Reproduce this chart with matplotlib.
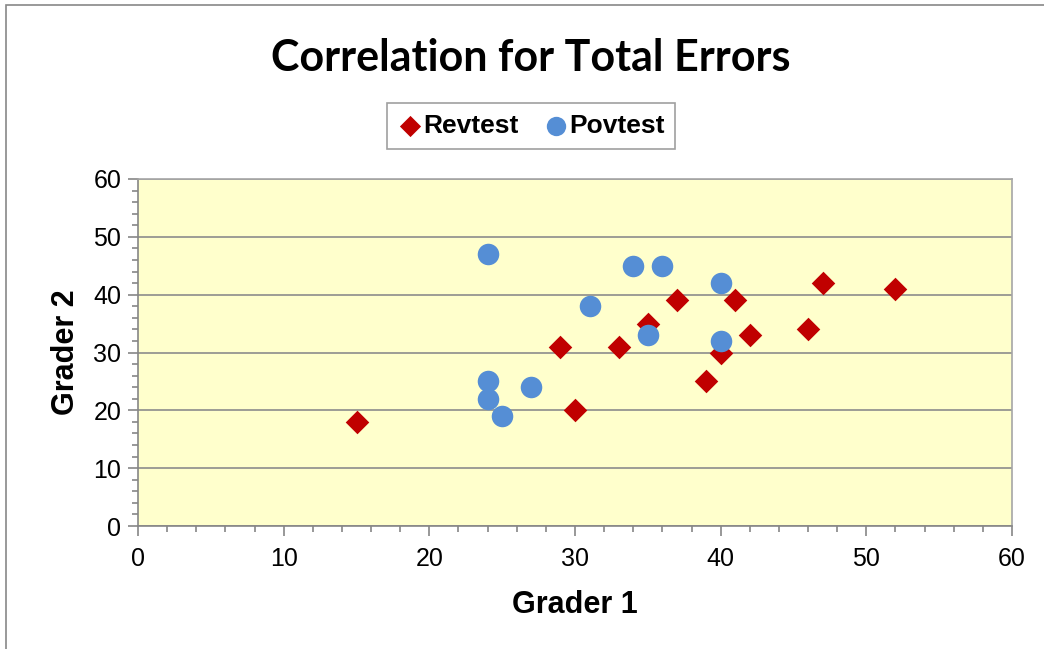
import matplotlib
matplotlib.use("Agg")
import matplotlib.pyplot as plt
import matplotlib.ticker as ticker
from matplotlib.patches import Rectangle

# Revtest points (grader 1, grader 2)
rev_g1 = [15, 29, 30, 33, 35, 37, 39, 40, 41, 42, 46, 47, 52]
rev_g2 = [18, 31, 20, 31, 35, 39, 25, 30, 39, 33, 34, 42, 41]

# Povtest points
pov_g1 = [24, 24, 24, 25, 27, 31, 34, 35, 36, 40, 40]
pov_g2 = [47, 25, 22, 19, 24, 38, 45, 33, 45, 42, 32]

plt.rcParams['font.family'] = ['Liberation Sans', 'DejaVu Sans']

fig = plt.figure(figsize=(10.44, 6.49), dpi=100)
ax = fig.add_axes([138/1044, 1-526/649, (1012-138)/1044, (526-179)/649])

# outer chart border (cut off at right/bottom like the source)
fig.patches.append(Rectangle((6/1044, -0.1), 1.2, 1-5/649+0.1, transform=fig.transFigure,
                             fill=False, edgecolor='#888888', lw=1.2))

ax.set_facecolor('#FFFFCC')
ax.set_xlim(0, 60)
ax.set_ylim(0, 60)
ax.xaxis.set_major_locator(ticker.MultipleLocator(10))
ax.xaxis.set_minor_locator(ticker.MultipleLocator(2))
ax.yaxis.set_major_locator(ticker.MultipleLocator(10))
ax.yaxis.set_minor_locator(ticker.MultipleLocator(2))
ax.grid(True, axis='y', which='major', color='#8c8c8c', lw=1.2)
ax.set_axisbelow(True)

for s in ['left', 'bottom']:
    ax.spines[s].set_color('#868686')
    ax.spines[s].set_linewidth(1.2)
for s in ['top', 'right']:
    ax.spines[s].set_color('#a6a6a6')
    ax.spines[s].set_linewidth(1.2)

ax.tick_params(which='major', direction='out', length=7, width=1.2, color='#868686',
               labelsize=18, pad=5)
ax.tick_params(axis='x', which='major', pad=8)
ax.tick_params(which='minor', direction='out', length=4, width=1.2, color='#868686')

ax.scatter(rev_g1, rev_g2, marker='D', s=12**2, color='#C00000', label='Revtest', zorder=3,
           linewidths=0)
ax.scatter(pov_g1, pov_g2, marker='o', s=15.5**2, color='#558ED5', label='Povtest', zorder=3,
           linewidths=0)

ax.set_xlabel('Grader 1', fontsize=22, fontweight='bold', labelpad=14)
ax.set_ylabel('Grader 2', fontsize=22, fontweight='bold', labelpad=9)

fig.text(531/1044, 1-58/649, 'Correlation for Total Errors', ha='center', va='center',
         fontsize=31, fontweight='bold', family=['Lato', 'DejaVu Sans'])

leg = fig.legend(loc='center', bbox_to_anchor=(531/1044, 1-126/649), ncol=2,
                 prop={'weight': 'bold', 'size': 19}, frameon=True, fancybox=False,
                 edgecolor='#888888', handletextpad=0.0, columnspacing=0.9,
                 borderpad=0.4, markerscale=0.9, handlelength=1.0)
leg.get_frame().set_linewidth(1.2)

fig.savefig('out.png', dpi=100)
